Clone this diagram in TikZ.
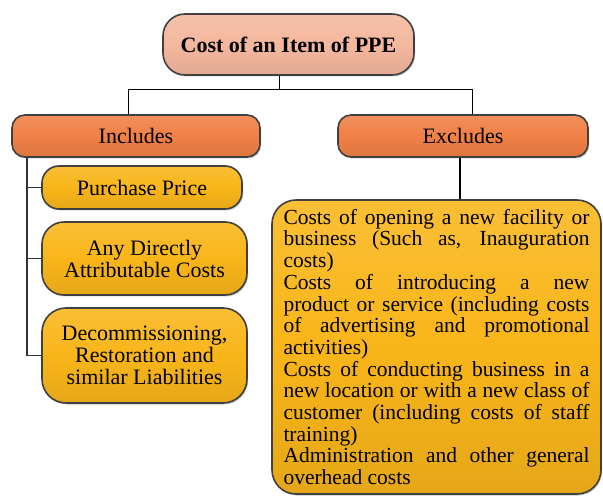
\documentclass[tikz,border=0pt]{standalone}
\usepackage{fontspec}
\setmainfont{Liberation Serif}
\usepackage{tikz}
\usetikzlibrary{positioning,shapes,shadows}
\definecolor{salmon}{RGB}{244,184,158}
\definecolor{ppeorange}{RGB}{240,128,70}
\definecolor{ppeyellow}{RGB}{249,182,26}
\tikzset{
  ppebox/.style={draw=black!75, line width=1.6pt, rounded corners=#1,
    drop shadow={shadow xshift=1.2pt, shadow yshift=-1.5pt, opacity=0.45},
    inner sep=0pt, align=center,
    font=\fontsize{22}{22}\selectfont},
  ppebox/.default=14pt,
  headbox/.style={ppebox=22pt, top color=salmon!88!white, bottom color=salmon!92!black, middle color=salmon},
  groupbox/.style={ppebox=13pt, top color=ppeorange!88!white, bottom color=ppeorange!92!black, middle color=ppeorange},
  itembox/.style={ppebox=#1, top color=ppeyellow!88!white, bottom color=ppeyellow!92!black, middle color=ppeyellow},
  itembox/.default=18pt,
  link/.style={draw=black, line width=1pt}
}
\begin{document}
\begin{tikzpicture}[x=1pt, y=-1pt]
        \useasboundingbox (0,0) rectangle (603,497);
        \path
        (279,90) coordinate (fork)
        (128,90) coordinate (forkl)
        (472,90) coordinate (forkr)
        (27,0) coordinate (spine)
        (460,0) coordinate (down)
        ;

        % boxes
        \node[headbox, minimum width=251pt, minimum height=61pt] (cost) at (288.5,44.5) {\textbf{Cost of an Item of PPE}};
        \node[groupbox, minimum width=248pt, minimum height=42pt] (incl) at (136,136) {Includes};
        \node[groupbox, minimum width=250pt, minimum height=42pt] (excl) at (463,136) {Excludes};
        \node[itembox=17pt, minimum width=200pt, minimum height=43pt] (pp) at (142,187.5) {Purchase Price};
        \node[itembox=22pt, minimum width=205pt, minimum height=73pt] (dac) at (144.5,258.5) {Any Directly\\Attributable Costs};
        \node[itembox=24pt, minimum width=205pt, minimum height=95pt] (drl) at (144.5,355.5) {Decommissioning,\\Restoration and\\similar Liabilities};
        \node[itembox=24pt, minimum width=329pt, minimum height=294pt, text width=306pt, align=justify, inner xsep=11pt,
              font=\fontsize{21.5}{21.7}\selectfont] (exlist) at (436.5,347)
          {Costs of opening a new facility or\linebreak business (Such as, Inauguration\linebreak costs)\par
           Costs of introducing a new\linebreak product or service (including costs\linebreak of advertising and promotional\linebreak activities)\par
           Costs of conducting business in a\linebreak new location or with a new class of\linebreak customer (including costs of staff\linebreak training)\par
           Administration and other general\linebreak overhead costs};

        % connectors
        \draw[link] (cost.south -| fork) -- (fork);
        \draw[link] (incl.north -| forkl) -- (forkl) -- (forkr) -- (excl.north -| forkr);
        \draw[link, line width=2pt] (excl.south -| down) -- (exlist.north -| down);
        \draw[link, draw=black!80, line width=1.3pt] (incl.south -| spine) |- (drl.west);
        \draw[link, draw=black!80, line width=1.3pt] (pp.west -| spine) -- (pp.west);
        \draw[link, draw=black!80, line width=1.3pt] (dac.west -| spine) -- (dac.west);
\end{tikzpicture}
\end{document}
